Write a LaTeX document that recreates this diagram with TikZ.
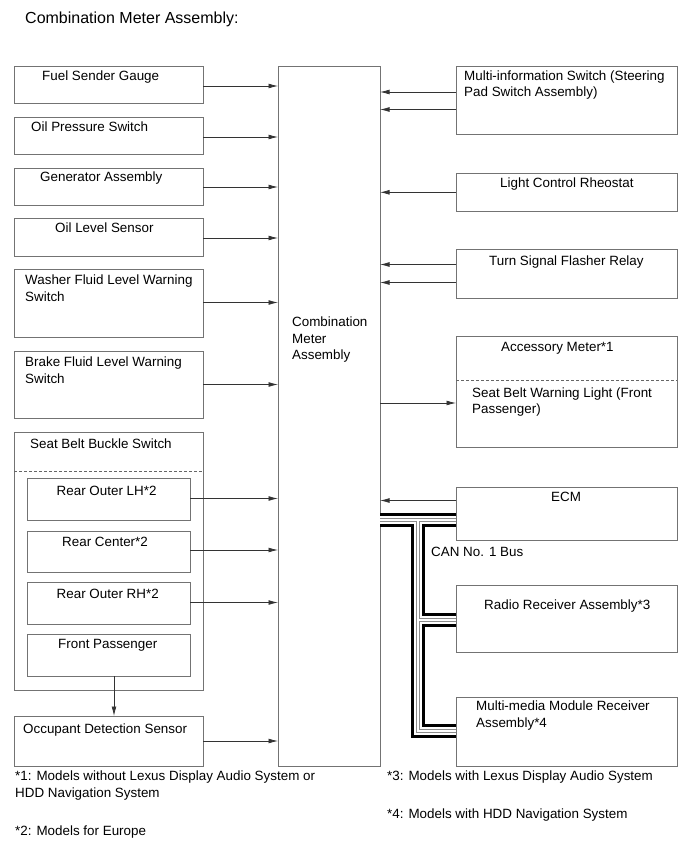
\documentclass[tikz,border=0pt]{standalone}
\usepackage{fontspec}
\setmainfont{Liberation Sans}
\usetikzlibrary{arrows.meta}
\newcommand\mkbox[5]{\node[box, minimum width={#4-#2}, minimum height={#5-#3}] (#1) at ({(#2+#4)/2},{(#3+#5)/2}) {};}
\begin{document}
\begin{tikzpicture}[x=1pt,y=-1pt,
  box/.style={draw=black!55, line width=0.9pt, outer sep=0pt, inner sep=0pt},
  txt/.style={anchor=north west, inner sep=0pt, align=left, font=\fontsize{13.4}{16.5}\selectfont},
  arr/.style={draw=black!80, line width=0.7pt, -{Latex[length=9.5pt,width=4.8pt]}},
  dsh/.style={draw=black!60, line width=0.7pt, dash pattern=on 3pt off 2pt},
  canbus/.style={line width=14pt, draw=black, line join=miter,
    postaction={draw=white, line width=8pt, line join=miter},
    postaction={draw=black!45, line width=4pt, line join=miter},
    postaction={draw=white, line width=2pt, line join=miter}}]
\useasboundingbox[fill=white] (0,0) rectangle (690,854);

% title
\node[txt, font=\fontsize{16}{19}\selectfont] (title) at (25,12) {Combination Meter Assembly:};

% left boxes
\mkbox{fuel}{14}{66}{203}{103}
\mkbox{oilp}{14}{117}{203}{154}
\mkbox{gen}{14}{168}{203}{205}
\mkbox{oill}{14}{218}{203}{256}
\mkbox{wash}{14}{269}{203}{337}
\mkbox{brake}{14}{351}{203}{418}
\mkbox{sbb}{14}{432}{203}{690}
\mkbox{rolh}{27}{478}{190}{520}
\mkbox{rc}{27}{531}{190}{572}
\mkbox{rorh}{27}{582}{190}{624}
\mkbox{fp}{27}{634}{190}{676}
\mkbox{occ}{14}{716}{203}{766}
% main
\mkbox{main}{278}{66}{380}{766}
% right boxes
\mkbox{mis}{456}{66}{677}{134}
\mkbox{lcr}{456}{173}{677}{211}
\mkbox{tsf}{456}{249}{677}{298}
\mkbox{acc}{456}{336}{677}{447}
\mkbox{ecm}{456}{487}{677}{540}
\mkbox{radio}{456}{585}{677}{652}
\mkbox{mm}{456}{697}{677}{766}

% dashed separators
\draw[dsh] (sbb.west |- 0,471) -- (sbb.east |- 0,471);
\draw[dsh] (acc.west |- 0,380.5) -- (acc.east |- 0,380.5);

% texts
\node[txt] (tfuel) at (42,71) {Fuel Sender Gauge};
\node[txt] (toilp) at (31,122) {Oil Pressure Switch};
\node[txt] (tgen) at (40,172) {Generator Assembly};
\node[txt] (toill) at (55,223) {Oil Level Sensor};
\node[txt] (twash) at (25,275) {Washer Fluid Level Warning\\Switch};
\node[txt] (tbrake) at (25,357) {Brake Fluid Level Warning\\Switch};
\node[txt] (tsbb) at (30,438.5) {Seat Belt Buckle Switch};
\node[txt] (trolh) at (56.5,486) {Rear Outer LH*2};
\node[txt] (trc) at (62,537) {Rear Center*2};
\node[txt] (trorh) at (56.5,588.5) {Rear Outer RH*2};
\node[txt] (tfp) at (58,639.5) {Front Passenger};
\node[txt] (tocc) at (23,723.5) {Occupant Detection Sensor};
\node[txt] (tmain) at (292,317) {Combination\\Meter\\Assembly};
\node[txt] (tmis) at (464,70.5) {Multi-information Switch (Steering\\Pad Switch Assembly)};
\node[txt] (tlcr) at (500,177.5) {Light Control Rheostat};
\node[txt] (ttsf) at (489,255.5) {Turn Signal Flasher Relay};
\node[txt] (tacc) at (501,342.5) {Accessory Meter*1};
\node[txt] (tsbw) at (472,387.5) {Seat Belt Warning Light (Front\\Passenger)};
\node[txt] (tecm) at (551,492) {ECM};
\node[txt] (tcan) at (431,547) {CAN No. 1 Bus};
\node[txt] (tradio) at (484,600) {Radio Receiver Assembly*3};
\node[txt] (tmm) at (476,701) {Multi-media Module Receiver\\Assembly*4};

% footnotes
\node[txt] (n1) at (15,771) {*1: Models without Lexus Display Audio System or\\HDD Navigation System};
\node[txt] (n2) at (15,826) {*2: Models for Europe};
\node[txt] (n3) at (387,771) {*3: Models with Lexus Display Audio System};
\node[txt] (n4) at (387,809) {*4: Models with HDD Navigation System};

% left arrows
\draw[arr] (fuel.east |- 0,86) -- (main.west |- 0,86);
\draw[arr] (oilp.east |- 0,137) -- (main.west |- 0,137);
\draw[arr] (gen.east |- 0,187) -- (main.west |- 0,187);
\draw[arr] (oill.east |- 0,238) -- (main.west |- 0,238);
\draw[arr] (wash.east |- 0,302.5) -- (main.west |- 0,302.5);
\draw[arr] (brake.east |- 0,384.5) -- (main.west |- 0,384.5);
\draw[arr] (rolh.east |- 0,498.5) -- (main.west |- 0,498.5);
\draw[arr] (rc.east |- 0,550) -- (main.west |- 0,550);
\draw[arr] (rorh.east |- 0,602.5) -- (main.west |- 0,602.5);
\draw[arr] (occ.east |- 0,741) -- (main.west |- 0,741);
\draw[arr] (fp.south -| 114,0) -- (occ.north -| 114,0);

% right arrows
\draw[arr] (mis.west |- 0,92) -- (main.east |- 0,92);
\draw[arr] (mis.west |- 0,109.5) -- (main.east |- 0,109.5);
\draw[arr] (lcr.west |- 0,192.3) -- (main.east |- 0,192.3);
\draw[arr] (tsf.west |- 0,264.5) -- (main.east |- 0,264.5);
\draw[arr] (tsf.west |- 0,282.5) -- (main.east |- 0,282.5);
\draw[arr] (main.east |- 0,403) -- (acc.west |- 0,403);
\draw[arr] (ecm.west |- 0,500.5) -- (main.east |- 0,500.5);

% CAN bus
\coordinate (j1) at (417.5,520);
\coordinate (j2) at (417.5,620);
\coordinate (j3) at (417.5,730.5);
\draw[canbus] (main.east |- j1) -- (ecm.west |- j1)
  (j1) -- (j3) -- (mm.west |- j3)
  (j2) -- (radio.west |- j2);
\end{tikzpicture}
\end{document}
